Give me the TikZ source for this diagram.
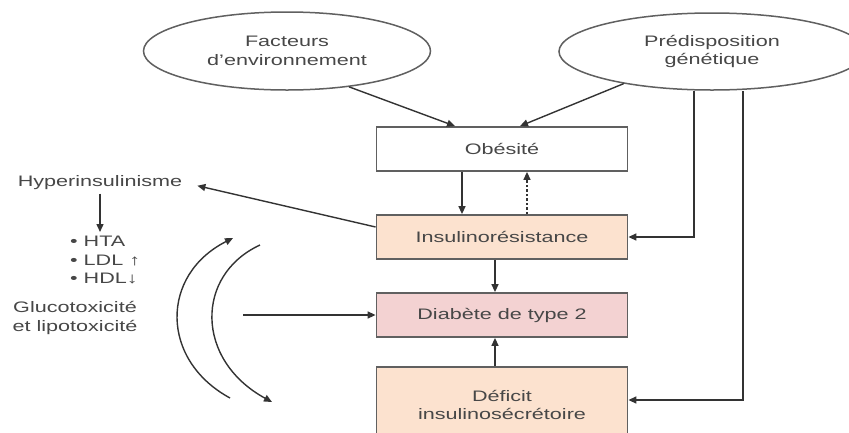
\documentclass[tikz,border=0pt]{standalone}
\usepackage{fontspec}
\newfontfamily\diagfont[FakeStretch=1.42]{Liberation Sans}
\usetikzlibrary{shapes.geometric,arrows.meta}
\definecolor{txtgray}{HTML}{474747}
\definecolor{linegray}{HTML}{333333}
\definecolor{boxgray}{HTML}{606060}
\definecolor{peach}{HTML}{FCE2CF}
\definecolor{rose}{HTML}{F3D2D2}

\begin{document}
\begin{tikzpicture}[x=1pt,y=-1pt,
    every node/.style={font=\diagfont\fontsize{15.2}{18.5}\selectfont,text=txtgray},
    box/.style={draw=boxgray,line width=1.8pt,minimum width=251pt,minimum height=44pt,inner sep=0pt},
    bubble/.style={ellipse,draw=boxgray,line width=1.5pt,fill=white,align=center,inner sep=0pt},
    arr/.style={-{Triangle[length=8pt,width=7pt]},draw=linegray,line width=1.4pt}]
    \useasboundingbox (0,0) rectangle (849,432);
    \fill[white] (0,0) rectangle (849,432);
    \clip (0,0) rectangle (849,432);
    % ellipses
    \node[bubble,minimum width=287pt,minimum height=78pt] (fact) at (287,51) {Facteurs\\d’environnement};
    \node[bubble,minimum width=306pt,minimum height=77pt] (pred) at (712,51.5) {Prédisposition\\génétique};
    % boxes
    \node[box] (obes) at (502,149) {Obésité};
    \node[box,fill=peach] (ires) at (502,237) {Insulinorésistance};
    \node[box,fill=rose] (diab) at (502,315) {Diabète de type 2};
    \node[box,fill=peach,minimum height=76pt,align=center] (def) at (502,405) {Déficit\\insulinosécrétoire};
    % left side
    \node (hyper) at (100,183) {Hyperinsulinisme};
    \node[align=left,anchor=north west,inner sep=0pt] (risk) at (70,236) {• HTA\\• LDL \textbf{↑}\\• HDL\textbf{↓}};
    \node[align=center] (gluco) at (75,318) {Glucotoxicité\\et lipotoxicité};
    \coordinate (gl) at (243,315);
    \coordinate (ua) at (230,398);
    \coordinate (ub) at (233,238);
    \coordinate (da) at (260,245);
    \coordinate (db) at (272,402);
    % connectors
    \draw[arr] (fact.-30) -- ([xshift=-47pt]obes.north);
    \draw[arr] (pred.200) -- ([xshift=18pt]obes.north);
    \draw[arr] ([xshift=-18pt]pred.south) |- (ires.east);
    \draw[arr] ([xshift=31pt]pred.south) |- ([yshift=5pt]def.east);
    \draw[arr] ([xshift=-40pt]obes.south) -- ([xshift=-40pt]ires.north);
    \draw[arr,dash pattern=on 2.5pt off 2pt] ([xshift=25pt]ires.north) -- ([xshift=25pt]obes.south);
    \draw[arr] ([xshift=-7pt]ires.south) -- ([xshift=-7pt]diab.north);
    \draw[arr] ([xshift=-7pt]def.north) -- ([xshift=-7pt]diab.south);
    \draw[arr,shorten >=12pt] ([yshift=10pt]ires.west) -- (hyper.east);
    \draw[arr,shorten >=4pt] (hyper.south) -- (hyper.south |- risk.north);
    \draw[arr] (gl) -- (diab.west);
    \draw[arr] (ua) .. controls (160,360) and (160,275) .. (ub);
    \draw[arr] (da) .. controls (195,275) and (195,360) .. (db);
\end{tikzpicture}
\end{document}
